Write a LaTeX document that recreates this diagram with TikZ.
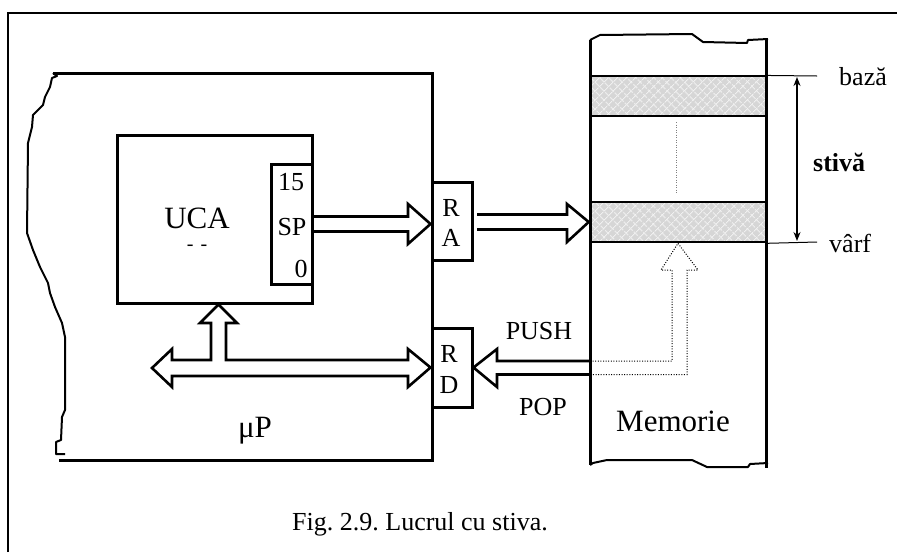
\documentclass[tikz,border=0pt]{standalone}
\usepackage{fontspec}
\setmainfont{Liberation Serif}
\usetikzlibrary{positioning,arrows.meta,calc,patterns.meta}
\frenchspacing

\begin{document}
\begin{tikzpicture}[x=1pt,y=-1pt,
  box/.style={draw,line width=3pt,inner sep=0pt},
  bus/.style={line width=2.6pt,line join=miter},
  wall/.style={line width=3pt},
  edge/.style={line width=2pt,line join=round},
  band/.style={draw,line width=2.6pt,inner sep=0pt,minimum width=176pt,minimum height=40pt,
    preaction={fill=black!16},
    preaction={pattern={Lines[angle=45,distance=6.5pt,line width=1.1pt]},pattern color=black!6},
    pattern={Lines[angle=-45,distance=6.5pt,line width=1.1pt]},pattern color=black!6},
  big/.style={font=\fontsize{31}{36}\selectfont,inner sep=0pt,anchor=base},
  small/.style={font=\fontsize{26}{30}\selectfont,inner sep=0pt,anchor=base}]
\useasboundingbox (0,0) rectangle (897,552);
% --- frame ---
\draw[line width=1.6pt] (8,552) -- (8,13) -- (897,13);
% --- microprocessor ---
\draw[edge] plot coordinates {(53,73) (57,76) (52,78) (50,87) (45,97) (43,105) (33,115) (32,127)
  (28,143) (27,233) (33,250) (40,267) (48,283) (50,293) (55,307) (62,323) (65,337) (65,410)
  (62,417) (61,440) (56,442) (56,454) (65,454)};
\draw[wall] (53,73) -- (432,73) -- (432,460) -- (59,460);
\node[box,minimum width=195pt,minimum height=168pt] (uca) at (214.5,219) {};
\node[big] (ucatxt) at (197,228) {UCA};
\node[font=\fontsize{20}{24}\selectfont,inner sep=0pt,anchor=base] (dash) at (197,250) {-\hspace{7pt}-};
\node[box,fill=white,minimum width=41pt,minimum height=120pt] (sp) at (291.5,224) {};
\node[small] (msb) at (291,190) {15};
\node[small] (sptxt) at (292,235) {SP};
\node[small] (lsb) at (301,277) {0};
\node[box,fill=white,minimum width=40pt,minimum height=78pt] (ra) at (452,221) {};
\node[small] at (451,216) {R};
\node[small] at (451,246) {A};
\node[box,fill=white,minimum width=40pt,minimum height=79pt] (rd) at (452,367.5) {};
\node[small] at (449,362) {R};
\node[small] at (449,393) {D};
\node[big] (up) at (255,437) {μP};
% --- memory ---
\node[band] (b1) at (678,96) {};
\node[band] (b2) at (678,222) {};
\draw[edge] plot coordinates {(590,40) (600,35) (692,34) (703,42) (747,43) (748,40) (768,39)};
\draw[edge] plot coordinates {(590,465) (593,463) (607,460) (692,460) (707,467) (748,467) (750,464) (768,463)};
\draw[wall] (590,40) -- (590,465);
\draw[wall] (766,39) -- (766,468);
\draw[gray,line width=0.8pt,dash pattern=on 1pt off 1.5pt] (676,122) -- (676,194);
\node[big] (mem) at (673,431) {Memorie};
% --- stack limits ---
\draw[line width=1pt] (b1.north east) -- (817,76);
\draw[line width=1pt] (b2.south east) -- (817,242);
\draw[{Stealth[length=9pt,width=7pt]}-{Stealth[length=9pt,width=7pt]},line width=1.3pt] (797,77) -- (797,241);
\node[small,anchor=base west] (baza) at (839,85) {bază};
\node[small,anchor=base west,font=\fontsize{26}{30}\selectfont\bfseries] (stiva) at (813,171) {stivă};
\node[small,anchor=base west] (varf) at (829,252) {vârf};
% --- hollow arrows ---
\draw[bus] ([yshift=7.5pt]sp.east) -- (408,216.5) -- (408,204) -- (ra.west |- sp.east)
  -- (408,244) -- (408,231.5) -- ([yshift=-7.5pt]sp.east);
\draw[bus] (477,214.5) -- (567,214.5) -- (567,204) -- (b2.west) -- (567,242) -- (567,229.5) -- (477,229.5);
\draw[bus] (211,360) -- (172,360) -- (172,349) -- (152,368) -- (172,387) -- (172,376) -- (408,376)
  -- (408,387) -- (rd.west) -- (408,349) -- (408,360) -- (226,360) -- (226,323) -- (237,323)
  -- ([xshift=4pt]uca.south) -- (200,323) -- (211,323) -- cycle;
\draw[bus] (590,361) -- (497,361) -- (497,349) -- (rd.east) -- (497,387) -- (497,374.5) -- (590,374.5);
\draw[line width=1pt,dash pattern=on 1pt off 1.6pt] (590,361) -- (672,361) -- (672,270) -- (661,270)
  -- (b2.south) -- (698,270) -- (687,270) -- (687,374.5) -- (590,374.5);
\node[small] (push) at (539,339) {PUSH};
\node[small] (pop) at (543,415) {POP};
% --- caption ---
\node[small,anchor=base west] (cap) at (292,530) {Fig. 2.9. Lucrul cu stiva.};
\end{tikzpicture}
\end{document}
